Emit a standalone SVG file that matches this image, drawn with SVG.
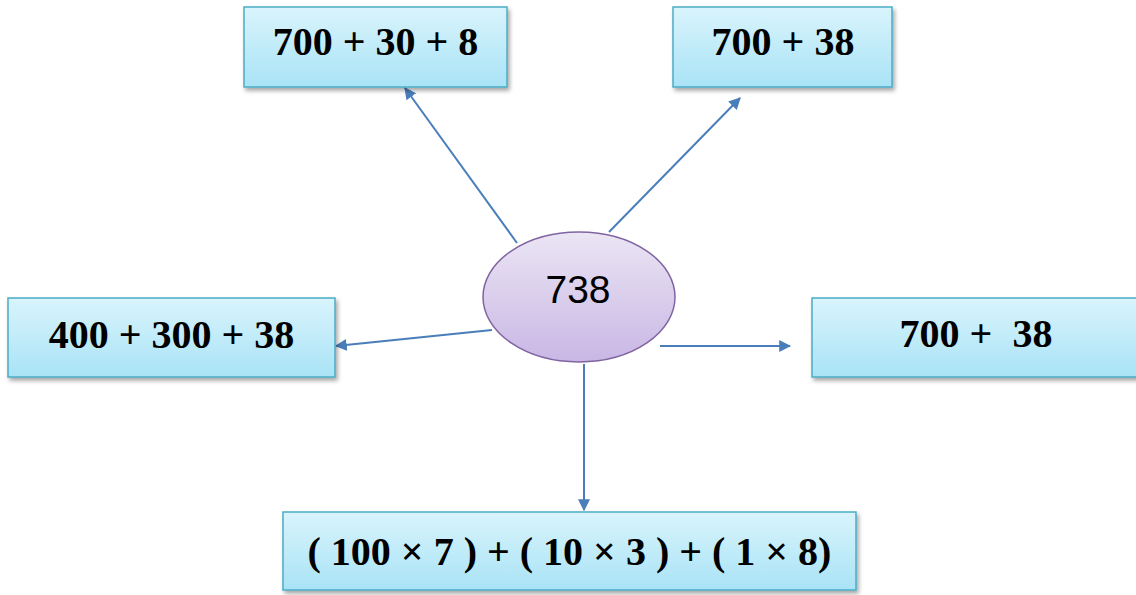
<svg xmlns="http://www.w3.org/2000/svg" width="1136" height="595" viewBox="0 0 1136 595">
  <defs>
    <linearGradient id="boxFill" x1="0" y1="0" x2="0" y2="1">
      <stop offset="0" stop-color="#d9f4fc"/>
      <stop offset="1" stop-color="#a9e3f6"/>
    </linearGradient>
    <linearGradient id="ellFill" x1="0" y1="0" x2="0" y2="1">
      <stop offset="0" stop-color="#ebe5f4"/>
      <stop offset="1" stop-color="#c9b7e4"/>
    </linearGradient>
    <filter id="shadow" x="-10%" y="-20%" width="120%" height="150%">
      <feDropShadow dx="2" dy="3" stdDeviation="2" flood-color="#000" flood-opacity="0.35"/>
    </filter>
    <marker id="arrow" viewBox="0 0 10 10" refX="9" refY="5" markerWidth="12" markerHeight="12" markerUnits="userSpaceOnUse" orient="auto">
      <path d="M0,0 L10,5 L0,10 z" fill="#4a7ebb"/>
    </marker>
  </defs>
  <style>
    .box { fill: url(#boxFill); stroke: #4bacc6; stroke-width: 1.5; filter: url(#shadow); }
    .lbl { font-family: "Liberation Serif", "Times New Roman", serif; font-weight: bold; font-size: 40px; fill: #000; text-anchor: middle; white-space: pre; }
    .conn { stroke: #4a7ebb; stroke-width: 2; fill: none; marker-end: url(#arrow); }
  </style>
  <rect width="1136" height="595" fill="#ffffff"/>

  <g id="connectors">
    <line class="conn" x1="517" y1="243" x2="405" y2="88"/>
    <line class="conn" x1="609" y1="232" x2="740" y2="98"/>
    <line class="conn" x1="492" y1="330" x2="336" y2="346"/>
    <line class="conn" x1="660" y1="346" x2="790" y2="346"/>
    <line class="conn" x1="584" y1="364" x2="584" y2="510"/>
  </g>

  <g id="node-top-left">
    <rect class="box" x="244" y="7" width="263" height="80"/>
    <text class="lbl" x="375.5" y="55">700 + 30 + 8</text>
  </g>
  <g id="node-top-right">
    <rect class="box" x="673" y="7" width="219" height="80"/>
    <text class="lbl" x="783" y="55">700 + 38</text>
  </g>
  <g id="node-left">
    <rect class="box" x="8" y="298" width="327" height="79"/>
    <text class="lbl" x="171.5" y="348">400 + 300 + 38</text>
  </g>
  <g id="node-right">
    <rect class="box" x="812" y="298" width="330" height="79"/>
    <text class="lbl" x="976" y="347" xml:space="preserve">700 +  38</text>
  </g>
  <g id="node-bottom">
    <rect class="box" x="283" y="512" width="573" height="78"/>
    <text class="lbl" x="569.5" y="565">( 100 × 7 ) + ( 10 × 3 ) + ( 1 × 8)</text>
  </g>
  <g id="node-center">
    <ellipse cx="579" cy="297" rx="96" ry="65" fill="url(#ellFill)" stroke="#8064a2" stroke-width="1.5"/>
    <text x="578" y="303" font-family="Liberation Sans, Arial, sans-serif" font-size="39" fill="#000" text-anchor="middle">738</text>
  </g>
</svg>
